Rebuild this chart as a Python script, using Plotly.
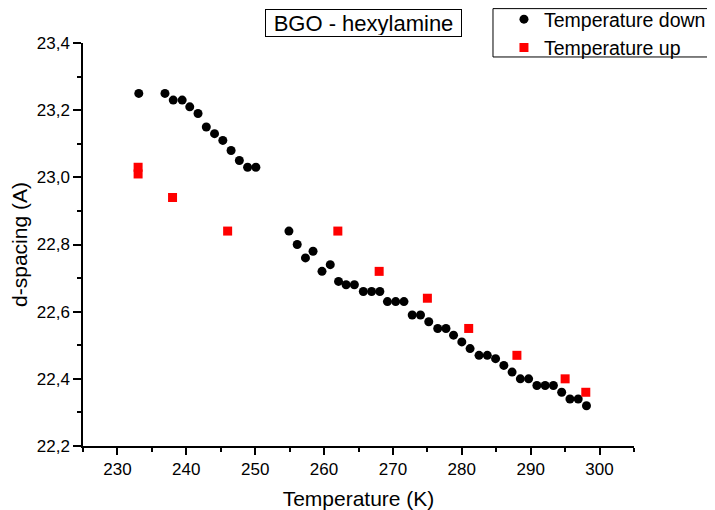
import plotly.graph_objects as go

down_T = [233.1, 236.9, 238.1, 239.4, 240.5, 241.7, 242.9, 244.1, 245.3, 246.5, 247.7, 248.9, 250.1,
          254.9, 256.1, 257.3, 258.4, 259.7, 260.9, 262.1, 263.2, 264.4, 265.7, 266.9, 268.1,
          269.2, 270.4, 271.6, 272.8, 274.0, 275.2, 276.5, 277.7, 278.8, 280.0, 281.2, 282.5,
          283.7, 284.9, 286.1, 287.3, 288.5, 289.7, 290.9, 292.1, 293.3, 294.5, 295.7, 296.9, 298.1]
down_d = [23.25, 23.25, 23.23, 23.23, 23.21, 23.19, 23.15, 23.13, 23.11, 23.08, 23.05, 23.03, 23.03,
          22.84, 22.80, 22.76, 22.78, 22.72, 22.74, 22.69, 22.68, 22.68, 22.66, 22.66, 22.66,
          22.63, 22.63, 22.63, 22.59, 22.59, 22.57, 22.55, 22.55, 22.53, 22.51, 22.49, 22.47,
          22.47, 22.46, 22.44, 22.42, 22.40, 22.40, 22.38, 22.38, 22.38, 22.36, 22.34, 22.34, 22.32]

up_T = [233, 233, 238, 246, 262, 268, 275, 281, 288, 295, 298]
up_d = [23.03, 23.01, 22.94, 22.84, 22.84, 22.72, 22.64, 22.55, 22.47, 22.40, 22.36]

FONT = "Arial, Liberation Sans, sans-serif"

fig = go.Figure()
fig.add_trace(go.Scatter(x=down_T, y=down_d, mode="markers", name="Temperature down",
                         marker=dict(symbol="circle", size=9, color="black", line=dict(width=0))))
fig.add_trace(go.Scatter(x=up_T, y=up_d, mode="markers", name="Temperature up",
                         marker=dict(symbol="square", size=9, color="#FF0000", line=dict(width=0))))

# page body adds an 8px offset; compensate so the plot lands where the reference has it
fig.update_layout(
    width=707, height=502,
    margin=dict(l=75, r=81, t=35, b=64, autoexpand=False),
    paper_bgcolor="white", plot_bgcolor="white",
    separators=",.",
    font=dict(family=FONT, color="black"),
    showlegend=True,
    legend=dict(x=0.764, y=1.1067, xanchor="left", yanchor="top",
                borderwidth=0, bgcolor="rgba(0,0,0,0)",
                font=dict(size=19.5, family=FONT), tracegroupgap=0),
    shapes=[dict(type="rect", xref="paper", yref="paper",
                 x0=0.7441, x1=1.1400, y0=0.9653, y1=1.0853,
                 line=dict(color="black", width=1), fillcolor="rgba(0,0,0,0)")],
    annotations=[dict(text="BGO - hexylamine", xref="paper", yref="paper",
                      x=0.509, y=1.0484, xanchor="center", yanchor="middle",
                      showarrow=False, font=dict(size=22, family=FONT),
                      width=193, height=24,
                      bordercolor="black", borderwidth=1, borderpad=1,
                      bgcolor="white")],
)

fig.update_xaxes(range=[225, 305], dtick=10, tick0=230, showgrid=False, zeroline=False,
                 showline=True, linecolor="black", linewidth=1.5, automargin=False,
                 ticks="outside", ticklen=7, tickwidth=1.5, tickcolor="black",
                 tickfont=dict(size=17, family=FONT),
                 minor=dict(dtick=5, ticks="outside", ticklen=4, tickwidth=1.5, tickcolor="black"),
                 title=dict(text="Temperature (K)", font=dict(size=21, family=FONT)))
fig.update_yaxes(range=[22.2, 23.4], dtick=0.2, tick0=22.2, tickformat=".1f", showgrid=False,
                 zeroline=False, showline=True, linecolor="black", linewidth=1.5, automargin=False,
                 ticks="outside", ticklen=8, tickwidth=1.5, tickcolor="black",
                 tickfont=dict(size=17, family=FONT),
                 minor=dict(dtick=0.1, ticks="outside", ticklen=4, tickwidth=1.5, tickcolor="black"),
                 title=dict(text="d-spacing (A)", font=dict(size=21, family=FONT)))

fig.write_html("out.html")
